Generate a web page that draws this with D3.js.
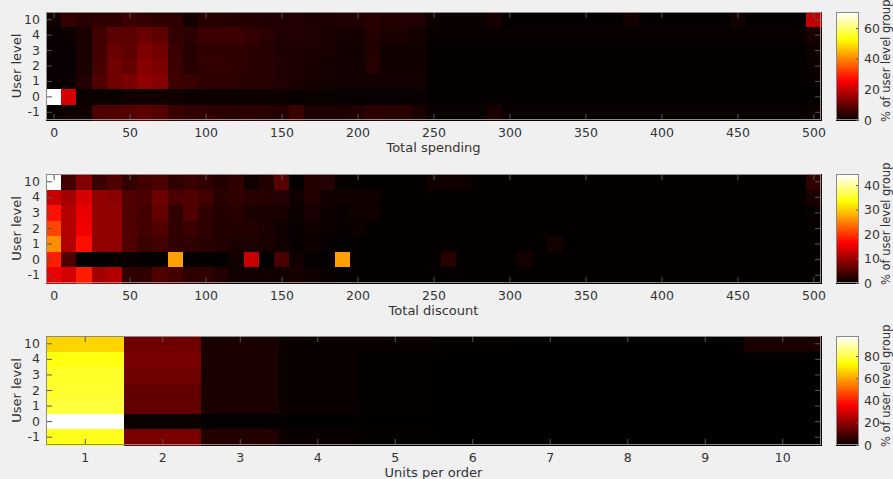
<!DOCTYPE html>
<html>
<head>
<meta charset="utf-8">
<script src="https://cdn.jsdelivr.net/npm/d3@7/dist/d3.min.js"></script>
<style>
  html, body { margin: 0; padding: 0; background: #f0f0f0; }
  svg { display: block; }
  text { font-family: "DejaVu Sans", sans-serif; fill: #333; }
</style>
</head>
<body>
<svg id="chart" width="893" height="479"></svg>
<script>
// ---------------- DATA ----------------
const levels = ["10", "4", "3", "2", "1", "0", "-1"];

const amountBins = [0, 10, 20, 30, 40, 50, 60, 70, 80, 90,
  100, 110, 120, 130, 140, 150, 160, 170, 180, 190,
  200, 210, 220, 230, 240, 250, 260, 270, 280, 290,
  300, 310, 320, 330, 340, 350, 360, 370, 380, 390,
  400, 410, 420, 430, 440, 450, 460, 470, 480, 490, 500];
const amountTicks = [0, 50, 100, 150, 200, 250, 300, 350, 400, 450, 500];

const unitBins = [1, 2, 3, 4, 5, 6, 7, 8, 9, 10];
const unitTicks = [1, 2, 3, 4, 5, 6, 7, 8, 9, 10];

// % of user level group, rows follow `levels` (10,4,3,2,1,0,-1)
const spendingPct = [
  [1.5, 5.4, 3.9, 4.7, 4.7, 6.2, 5.4, 4.7, 4.7, 1.9,
   3.9, 3.9, 3.4, 3.4, 3.1, 3.1, 3.1, 2.8, 2.8, 3.1,
   3.1, 4.0, 3.4, 3.4, 3.1, 1.2, 0.9, 0.9, 0.9, 2.3,
   0.5, 0.5, 0.5, 0.5, 0.5, 0.5, 0.5, 0.5, 1.9, 0.5,
   0.5, 0.5, 0.5, 0.5, 0.5, 1.7, 0.5, 0.5, 0.5, 0.5, 20],
  [0.8, 1.2, 2.5, 6.5, 9.3, 9.3, 10.9, 9.6, 5.0, 4.3,
   6.2, 6.2, 6.2, 5.0, 4.3, 3.1, 3.1, 3.1, 2.5, 2.2,
   2.2, 3.7, 2.5, 2.5, 2.2, 0.6, 0.6, 0.6, 0.6, 0.6,
   0.6, 0.6, 0.6, 0.6, 0.6, 0.6, 0.6, 0.6, 0.6, 0.6,
   0.6, 0.6, 0.6, 0.6, 0.6, 0.6, 0.6, 0.6, 0.6, 0.6, 2.3],
  [0.8, 0.8, 2.5, 6.5, 10.5, 9.6, 12.9, 11.3, 5.6, 4.0,
   4.8, 4.8, 4.8, 4.5, 4.0, 2.8, 2.8, 2.5, 2.5, 1.6,
   1.6, 3.4, 1.6, 1.6, 1.6, 0.5, 0.5, 0.5, 0.5, 0.5,
   0.5, 0.5, 0.5, 0.5, 0.5, 0.5, 0.5, 0.5, 0.5, 0.5,
   0.5, 0.5, 0.5, 0.5, 0.5, 0.5, 0.5, 0.5, 0.5, 0.5, 1.2],
  [0.8, 0.8, 2.3, 7.0, 11.6, 10.1, 14.0, 12.4, 6.2, 3.9,
   5.1, 5.1, 4.7, 4.3, 3.9, 3.1, 2.8, 2.3, 2.0, 1.9,
   1.9, 3.6, 1.6, 1.6, 1.6, 0.5, 0.5, 0.5, 0.5, 0.5,
   0.5, 0.5, 0.5, 0.5, 0.5, 0.5, 0.5, 0.5, 0.5, 0.5,
   0.5, 0.5, 0.5, 0.5, 0.5, 0.5, 0.5, 0.5, 0.5, 0.5, 0.9],
  [0.8, 1.2, 3.1, 8.1, 11.3, 12.4, 14.6, 13.6, 6.5, 5.6,
   4.8, 4.8, 4.3, 4.0, 4.0, 3.1, 2.8, 2.3, 2.2, 1.9,
   1.9, 1.9, 1.9, 1.9, 1.9, 0.5, 0.5, 0.5, 0.5, 0.5,
   0.5, 0.5, 0.5, 0.5, 0.5, 0.5, 0.5, 0.5, 0.5, 0.5,
   0.5, 0.5, 0.5, 0.5, 0.5, 0.5, 0.5, 0.5, 0.5, 0.5, 0.8],
  [70.5, 22, 0.9, 0.9, 0.9, 1.6, 1.6, 1.6, 1.6, 1.2,
   1.2, 1.2, 1.2, 1.2, 1.2, 1.2, 0.6, 0.8, 0.8, 0.8,
   0.8, 0.8, 0.8, 0.8, 0.8, 0.3, 0.3, 0.3, 0.3, 0.3,
   0.3, 0.3, 0.3, 0.3, 0.3, 0.3, 0.3, 0.3, 0.3, 0.3,
   0.3, 0.3, 0.3, 0.3, 0.3, 0.3, 0.3, 0.3, 0.3, 0.3, 0.3],
  [0.6, 1.2, 1.6, 7.8, 8.1, 8.7, 9.6, 8.7, 5.9, 4.8,
   4.8, 4.3, 4.0, 4.3, 4.0, 3.4, 5.9, 2.8, 2.8, 2.8,
   3.4, 4.3, 4.0, 4.0, 2.5, 0.6, 0.6, 0.6, 0.6, 2.3,
   0.6, 0.6, 0.6, 0.6, 0.6, 0.6, 0.6, 0.6, 0.6, 0.6,
   0.6, 0.6, 0.6, 0.6, 0.6, 0.6, 0.6, 0.6, 0.6, 0.6, 1.2]
];

const discountPct = [
  [44.5, 4.2, 8.4, 3.7, 5.2, 3.1, 4.2, 4.7, 3.1, 3.8,
   3.1, 2.1, 3.1, 1.0, 2.1, 5.6, 0.3, 2.1, 2.4, 0.5,
   0.3, 0.3, 0.3, 0.3, 0.3, 1.0, 1.0, 1.0, 0.2, 0.2,
   0.2, 0.2, 0.2, 0.2, 0.2, 0.2, 0.2, 0.2, 0.2, 0.2,
   0.2, 0.2, 0.2, 0.2, 0.2, 0.2, 0.2, 0.2, 0.2, 0.2, 3.1],
  [13, 10.5, 14, 9.4, 8.9, 5.2, 4.7, 6.9, 4.7, 5.2,
   4.2, 2.6, 3.1, 2.6, 2.4, 2.4, 1.0, 2.1, 1.0, 1.0,
   1.0, 1.0, 0.2, 0.2, 0.2, 0.2, 0.2, 0.2, 0.2, 0.2,
   0.2, 0.2, 0.2, 0.2, 0.2, 0.2, 0.2, 0.2, 0.2, 0.2,
   0.2, 0.2, 0.2, 0.2, 0.2, 0.2, 0.2, 0.2, 0.2, 0.2, 1.5],
  [17.7, 11.5, 15.2, 9.4, 9.4, 5.2, 4.2, 6.3, 3.1, 5.2,
   3.1, 2.1, 2.6, 1.7, 1.6, 1.4, 0.7, 1.5, 1.0, 0.5,
   1.0, 1.0, 0.2, 0.2, 0.2, 0.2, 0.2, 0.2, 0.2, 0.2,
   0.2, 0.2, 0.2, 0.2, 0.2, 0.2, 0.2, 0.2, 0.2, 0.2,
   0.2, 0.2, 0.2, 0.2, 0.2, 0.2, 0.2, 0.2, 0.2, 0.2, 0.5],
  [21.2, 11.5, 15.7, 9.4, 9.4, 5.2, 4.2, 5.2, 3.1, 3.7,
   3.1, 2.1, 2.1, 2.1, 1.6, 1.0, 0.5, 1.0, 0.7, 0.4,
   0.8, 0.2, 0.2, 0.2, 0.2, 0.2, 0.2, 0.2, 0.2, 0.2,
   0.2, 0.2, 0.2, 0.2, 0.2, 0.2, 0.2, 0.2, 0.2, 0.2,
   0.2, 0.2, 0.2, 0.2, 0.2, 0.2, 0.2, 0.2, 0.2, 0.2, 0.3],
  [25.8, 11.5, 17.5, 9.4, 9.4, 5.2, 3.8, 4.2, 3.1, 3.1,
   2.6, 2.1, 1.7, 1.6, 1.4, 1.0, 0.5, 0.7, 0.4, 0.3,
   0.2, 0.2, 0.2, 0.2, 0.2, 0.2, 0.2, 0.2, 0.2, 0.2,
   0.2, 0.2, 0.2, 1.2, 0.2, 0.2, 0.2, 0.2, 0.2, 0.2,
   0.2, 0.2, 0.2, 0.2, 0.2, 0.2, 0.2, 0.2, 0.2, 0.2, 0.3],
  [18.5, 5.2, 0, 0.3, 0.5, 0.5, 0.2, 0.2, 27, 0.2,
   0.2, 0.2, 1.0, 13, 0, 4.8, 1.0, 0.2, 0.3, 27,
   0.2, 0.2, 0.2, 0.2, 0.2, 0.2, 2.6, 0.2, 0.2, 0.2,
   0.2, 1.2, 0.2, 0.2, 0.2, 0.2, 0.2, 0.2, 0.2, 0.2,
   0.2, 0.2, 0.2, 0.2, 0.2, 0.2, 0.2, 0.2, 0.2, 0.2, 0.2],
  [15.2, 13.6, 18.5, 10.5, 11.5, 3.1, 3.1, 5.2, 4.2, 3.1,
   3.1, 2.1, 1.0, 1.0, 1.0, 1.0, 1.4, 1.0, 0.5, 0.3,
   0.2, 0.2, 0.2, 0.2, 0.2, 0.2, 0.2, 0.2, 0.2, 0.2,
   0.2, 0.2, 0.2, 0.2, 0.2, 0.2, 0.2, 0.2, 0.2, 0.2,
   0.2, 0.2, 0.2, 0.2, 0.2, 0.2, 0.2, 0.2, 0.2, 0.2, 0.3]
];

const unitsPct = [
  [67, 16, 3.7, 1.4, 1.4, 0.4, 0.3, 0.3, 0.3, 3.5],
  [75, 17.3, 3.7, 1.2, 0.4, 0.3, 0.2, 0.2, 0.2, 0.3],
  [77, 16, 3.7, 1.2, 0.4, 0.3, 0.2, 0.2, 0.2, 0.3],
  [78, 13.8, 3.7, 1.2, 0.4, 0.3, 0.2, 0.2, 0.2, 0.3],
  [79, 13.8, 3.5, 1.2, 0.4, 0.3, 0.2, 0.2, 0.2, 0.3],
  [98, 1.4, 0.7, 0.3, 0.2, 0.1, 0.1, 0.1, 0.1, 0.1],
  [76, 17.3, 4.6, 1.5, 0.4, 0.3, 0.2, 0.2, 0.2, 0.3]
];

const spendingCbTicks = [0, 20, 40, 60];
const discountCbTicks = [0, 10, 20, 30, 40];
const unitsCbTicks = [0, 20, 40, 60, 80];

const xLabels = ["Total spending", "Total discount", "Units per order"];
const yLabel = "User level";
const cbLabel = "% of user level group";

// ---------------- COLORMAP (MATLAB hot, 256 entries) ----------------
const M = 256;
const N3 = 96;          // fix(3/8*M)
function hotIndex(i) {
  const r = Math.min(1, i / N3);
  const g = Math.max(0, Math.min(1, (i - N3) / N3));
  const b = Math.max(0, Math.min(1, (i - 2 * N3) / (M - 2 * N3)));
  return d3.rgb(r * 255, g * 255, b * 255).toString();
}
function hotColor(v, max) {
  let idx = Math.floor(v / max * M) + 1;
  idx = Math.max(1, Math.min(M, idx));
  return hotIndex(idx);
}

// ---------------- LAYOUT ----------------
const svg = d3.select("#chart");
const plotLeft = 46, plotRight = 821;
const cbLeft = 836, cbRight = 859;

const panels = [
  { top: 12, bottom: 120, bins: amountBins, width: 10, domain: [-5, 505], ticks: amountTicks,
    values: spendingPct, cbTicks: spendingCbTicks, label: xLabels[0] },
  { top: 174, bottom: 283, bins: amountBins, width: 10, domain: [-5, 505], ticks: amountTicks,
    values: discountPct, cbTicks: discountCbTicks, label: xLabels[1] },
  { top: 336, bottom: 445, bins: unitBins, width: 1, domain: [0.5, 10.5], ticks: unitTicks,
    values: unitsPct, cbTicks: unitsCbTicks, label: xLabels[2] }
];

const tickColor = "#555";
const frameColor = "#8a8a8a";

panels.forEach(p => {
  const g = svg.append("g");
  const x = d3.scaleLinear().domain(p.domain).range([plotLeft, plotRight]);
  const y = d3.scaleBand().domain(levels).range([p.top, p.bottom]).padding(0);
  const max = d3.max(p.values, row => d3.max(row));

  const cells = [];
  p.values.forEach((row, ri) => {
    row.forEach((v, ci) => cells.push({ level: levels[ri], bin: p.bins[ci], v }));
  });

  g.append("g").selectAll("rect").data(cells).join("rect")
    .attr("x", d => x(d.bin - p.width / 2))
    .attr("y", d => y(d.level))
    .attr("width", d => x(d.bin + p.width / 2) - x(d.bin - p.width / 2) + 0.5)
    .attr("height", y.bandwidth() + 0.5)
    .attr("fill", d => hotColor(d.v, max))
    .attr("shape-rendering", "crispEdges");

  // axes with inward ticks
  const styleAxis = sel => {
    sel.select(".domain").remove();
    sel.selectAll(".tick line").attr("stroke", tickColor);
    sel.selectAll(".tick text").attr("fill", "#333").style("font-size", "12.5px")
      .style("font-family", "'DejaVu Sans', sans-serif");
  };
  g.append("g").attr("transform", `translate(0,${p.bottom})`)
    .call(d3.axisBottom(x).tickValues(p.ticks).tickSizeInner(-6).tickSizeOuter(0).tickPadding(8))
    .call(styleAxis);
  g.append("g").attr("transform", `translate(0,${p.top})`)
    .call(d3.axisTop(x).tickValues(p.ticks).tickSizeInner(-6).tickSizeOuter(0).tickFormat(""))
    .call(styleAxis);
  g.append("g").attr("transform", `translate(${plotLeft},0)`)
    .call(d3.axisLeft(y).tickSizeInner(-6).tickSizeOuter(0).tickPadding(6))
    .call(styleAxis);
  g.append("g").attr("transform", `translate(${plotRight},0)`)
    .call(d3.axisRight(y).tickSizeInner(-6).tickSizeOuter(0).tickFormat(""))
    .call(styleAxis);

  g.append("rect")
    .attr("x", plotLeft + 0.5).attr("y", p.top + 0.5)
    .attr("width", plotRight - plotLeft - 1).attr("height", p.bottom - p.top - 1)
    .attr("fill", "none").attr("stroke", frameColor).attr("stroke-width", 1);

  // axis labels
  g.append("text")
    .attr("x", (plotLeft + plotRight) / 2).attr("y", p.bottom + 32)
    .attr("text-anchor", "middle").style("font-size", "13px")
    .text(p.label);
  g.append("text")
    .attr("transform", `translate(21,${(p.top + p.bottom) / 2}) rotate(-90)`)
    .attr("text-anchor", "middle").style("font-size", "13px")
    .text(yLabel);

  // colorbar
  const cy = d3.scaleLinear().domain([0, max]).range([p.bottom, p.top]);
  const steps = d3.range(1, M + 1);
  g.append("g").selectAll("rect").data(steps).join("rect")
    .attr("x", cbLeft).attr("width", cbRight - cbLeft)
    .attr("y", i => cy(i / M * max))
    .attr("height", i => cy((i - 1) / M * max) - cy(i / M * max) + 0.5)
    .attr("fill", i => hotIndex(i))
    .attr("shape-rendering", "crispEdges");
  g.append("g").attr("transform", `translate(${cbRight},0)`)
    .call(d3.axisRight(cy).tickValues(p.cbTicks).tickSizeInner(-3).tickSizeOuter(0).tickPadding(5))
    .call(styleAxis);
  g.append("rect")
    .attr("x", cbLeft + 0.5).attr("y", p.top + 0.5)
    .attr("width", cbRight - cbLeft - 1).attr("height", p.bottom - p.top - 1)
    .attr("fill", "none").attr("stroke", frameColor);
  g.append("text")
    .attr("transform", `translate(890,${p.bottom + 2}) rotate(-90)`)
    .attr("text-anchor", "start").style("font-size", "11.5px")
    .text(cbLabel);
});
</script>
</body>
</html>
